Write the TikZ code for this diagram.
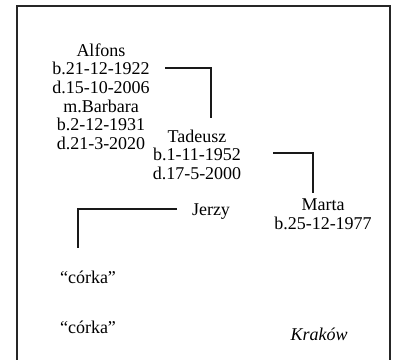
\documentclass[tikz,border=0pt]{standalone}
\usepackage{fontspec}
\setmainfont{Liberation Serif}
\begin{document}
\begin{tikzpicture}[x=1pt,y=-1pt,
  person/.style={align=center,inner sep=0pt,font=\fontsize{18}{18.6}\selectfont},
  link/.style={line width=2.6pt,black!90},
  frame/.style={line width=2.2pt,black!85}]
\useasboundingbox (0,0) rectangle (396,359);
\draw[frame] (17,370) -- (17,6) -- (390,6) -- (390,370);
\node[person] (alfons) at (101,96.5) {Alfons\\b.21-12-1922\\d.15-10-2006\\m.Barbara\\b.2-12-1931\\d.21-3-2020};
\node[person] (tadeusz) at (197,154.5) {Tadeusz\\b.1-11-1952\\d.17-5-2000};
\node[person] (marta) at (323,214) {Marta\\b.25-12-1977};
\node[person] (jerzy) at (211,212) {Jerzy};
\node[person] (corka1) at (88,277) {``córka''};
\node[person] (corka2) at (88,327) {``córka''};
\node[person,font=\fontsize{18}{18.6}\selectfont\itshape] (krakow) at (319,334) {Kraków};
\coordinate (a1) at (165,68);
\coordinate (a2) at (211,118);
\coordinate (t1) at (273,153);
\coordinate (t2) at (313,193);
\coordinate (j1) at (177,209);
\coordinate (j2) at (78,248);
\draw[link] (a1) -| (a2);
\draw[link] (t1) -| (t2);
\draw[link] (j1) -| (j2);
\end{tikzpicture}
\end{document}
